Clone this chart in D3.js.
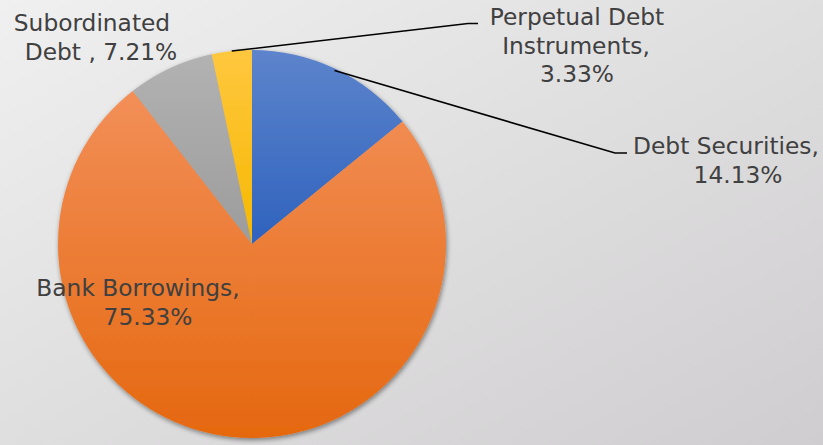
<!DOCTYPE html>
<html>
<head>
<meta charset="utf-8">
<script src="https://cdn.jsdelivr.net/npm/d3@7"></script>
<style>
  html, body { margin: 0; padding: 0; }
  svg { display: block; }
</style>
</head>
<body>
<svg id="chart" width="823" height="445"></svg>
<script>
// Borrowing mix, share of total (%)
const categories = ["Debt Securities", "Bank Borrowings", "Subordinated Debt", "Perpetual Debt Instruments"];
const values = [14.13, 75.33, 7.21, 3.33];
const labelLines = [
  ["Debt Securities,", "14.13%"],
  ["Bank Borrowings,", "75.33%"],
  ["Subordinated", "Debt , 7.21%"],
  ["Perpetual Debt", "Instruments,", "3.33%"]
];
const colorTop = ["#5d84cc", "#f28f58", "#b2b2b2", "#ffc73f"];
const colorBottom = ["#2f62bd", "#e5680f", "#9c9c9c", "#f5b800"];

const W = 823, H = 445;
const cx = 252, cy = 244, r = 194;

const svg = d3.select("#chart");
const defs = svg.append("defs");

// Page background: soft diagonal grey wash
const bg = defs.append("linearGradient").attr("id", "bg")
  .attr("x1", "0").attr("y1", "0").attr("x2", "1").attr("y2", "1");
bg.append("stop").attr("offset", "0").attr("stop-color", "#f0f0f0");
bg.append("stop").attr("offset", "1").attr("stop-color", "#cfcdcf");
svg.append("rect").attr("width", W).attr("height", H).attr("fill", "url(#bg)");

// Soft shadow under the pie
const sh = defs.append("filter").attr("id", "shadow")
  .attr("x", "-10%").attr("y", "-10%").attr("width", "120%").attr("height", "120%");
sh.append("feGaussianBlur").attr("in", "SourceAlpha").attr("stdDeviation", 2.5);
sh.append("feOffset").attr("dx", 1).attr("dy", 2).attr("result", "b");
sh.append("feComponentTransfer").append("feFuncA").attr("type", "linear").attr("slope", 0.45);
const merge = sh.append("feMerge");
merge.append("feMergeNode");
merge.append("feMergeNode").attr("in", "SourceGraphic");

const pie = d3.pie().sort(null).value(d => d)(values);
const arc = d3.arc().innerRadius(0).outerRadius(r);

// Vertical gradient per slice, spanning that slice's own vertical extent
pie.forEach((p, i) => {
  const pts = [[0, 0]];
  const n = 64;
  for (let k = 0; k <= n; k++) {
    const a = p.startAngle + (p.endAngle - p.startAngle) * k / n;
    pts.push([r * Math.sin(a), -r * Math.cos(a)]);
  }
  const y0 = d3.min(pts, q => q[1]), y1 = d3.max(pts, q => q[1]);
  const g = defs.append("linearGradient").attr("id", "g" + i)
    .attr("gradientUnits", "userSpaceOnUse")
    .attr("x1", 0).attr("y1", y0).attr("x2", 0).attr("y2", y1);
  g.append("stop").attr("offset", "0").attr("stop-color", colorTop[i]);
  g.append("stop").attr("offset", "1").attr("stop-color", colorBottom[i]);
});

const gPie = svg.append("g").attr("transform", `translate(${cx},${cy})`);
gPie.append("g").attr("filter", "url(#shadow)")
  .selectAll("path").data(pie).join("path")
  .attr("d", arc)
  .attr("fill", (d, i) => `url(#g${i})`);

// Leader lines (outside labels), starting at the slice's mid-angle
const leaders = [
  { i: 0, frac: 0.99, elbow: [615, 153], end: [627, 153] },
  { i: 3, frac: 1.0, elbow: [468, 23.5], end: [478, 23.5] }
];
leaders.forEach(L => {
  const p = pie[L.i];
  const ang = (p.startAngle + p.endAngle) / 2;
  const sx = cx + r * L.frac * Math.sin(ang);
  const sy = cy - r * L.frac * Math.cos(ang);
  svg.append("polyline")
    .attr("points", [[sx, sy], L.elbow, L.end].map(q => q.join(",")).join(" "))
    .attr("fill", "none").attr("stroke", "#000").attr("stroke-width", 1.6);
});

// Data labels
const labelPos = [
  [[726, 154], [738, 183]],
  [[138, 296], [148, 325]],
  [[92, 31], [101, 60]],
  [[577, 25], [576, 54], [577, 82]]
];
const font = "'DejaVu Sans', Verdana, sans-serif";
labelLines.forEach((lines, i) => {
  lines.forEach((t, j) => {
    svg.append("text")
      .attr("x", labelPos[i][j][0]).attr("y", labelPos[i][j][1])
      .attr("text-anchor", "middle")
      .attr("font-family", font).attr("font-size", 23.3)
      .attr("fill", "#404040")
      .text(t);
  });
});
</script>
</body>
</html>
